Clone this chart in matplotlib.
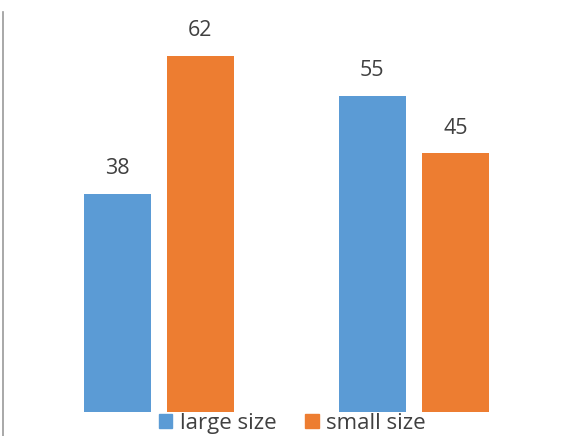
import matplotlib.pyplot as plt
from matplotlib.patches import Patch
import numpy as np

groups = [0, 1]
large_size = [38, 55]
small_size = [62, 45]
series_names = ["large size", "small size"]
colors = ["#5B9BD5", "#ED7D31"]

plt.rcParams['font.family'] = ['Open Sans', 'DejaVu Sans']

fig = plt.figure(figsize=(5.72, 4.36), dpi=100)
ax = fig.add_axes([3 / 572, 24 / 436, 569 / 572, 400 / 436])

x = np.array(groups)
w = 67 / 255
off = 83 / 2 / 255
b1 = ax.bar(x - off, large_size, w, color=colors[0])
b2 = ax.bar(x + off, small_size, w, color=colors[1])

for bars in (b1, b2):
    for b in bars:
        ax.annotate(str(int(b.get_height())), (b.get_x() + b.get_width() / 2, b.get_height()),
                    xytext=(0, 18), textcoords='offset points', ha='center', va='center',
                    fontsize=15.5, color='#404040')

ax.set_xlim(-0.61, 1.62)
ax.set_ylim(0, 69.6)
ax.set_xticks([])
ax.set_yticks([])
for s in ['top', 'right', 'bottom']:
    ax.spines[s].set_visible(False)
ax.spines['left'].set_color('#999999')
ax.spines['left'].set_linewidth(1.2)
# axis line runs down past the baseline to the figure edge
ax.spines['left'].set_bounds(-4.5, 69.6)

handles = [Patch(color=c, label=n) for c, n in zip(colors, series_names)]
fig.legend(handles=handles, loc='center', bbox_to_anchor=(0.511, 1 - 423 / 436), ncol=2,
           frameon=False, fontsize=16, handlelength=0.6, handleheight=0.6,
           handletextpad=0.35, columnspacing=1.3, labelcolor='#404040')

fig.savefig('out.png', dpi=100)
